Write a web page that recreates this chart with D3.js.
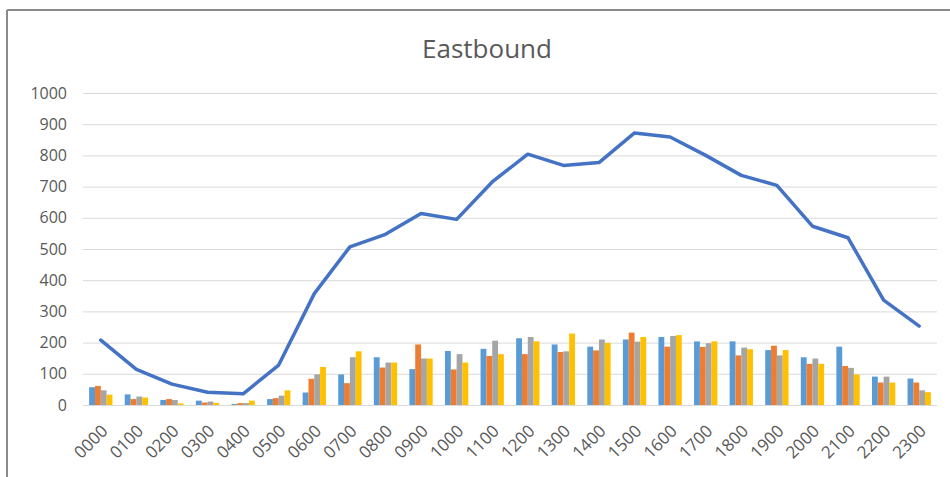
<!DOCTYPE html>
<html>
<head>
<meta charset="utf-8">
<script src="https://cdn.jsdelivr.net/npm/d3@7"></script>
<style>
  html, body { margin: 0; padding: 0; background: #fff; }
  svg { display: block; }
</style>
</head>
<body>
<script>
// Hourly eastbound counts: four bar series per hour plus the hourly total line
const hours = ["0000","0100","0200","0300","0400","0500","0600","0700","0800","0900","1000","1100",
               "1200","1300","1400","1500","1600","1700","1800","1900","2000","2100","2200","2300"];
const series1 = [57, 34, 16, 14, 3, 19, 40, 98, 153, 115, 173, 180, 214, 194, 187, 210, 218, 204, 204, 176, 153, 187, 91, 85];
const series2 = [61, 19, 19, 8, 6, 22, 84, 70, 120, 194, 114, 157, 163, 170, 175, 232, 187, 186, 159, 190, 132, 125, 72, 72];
const series3 = [47, 27, 16, 11, 6, 30, 98, 153, 136, 149, 163, 206, 218, 172, 210, 203, 221, 198, 184, 159, 149, 119, 91, 47];
const series4 = [33, 24, 5, 7, 14, 47, 122, 172, 136, 149, 136, 163, 204, 229, 199, 218, 224, 204, 179, 176, 132, 98, 72, 41];
const totals  = [208, 114, 67, 41, 36, 128, 357, 507, 547, 614, 595, 715, 804, 768, 777, 872, 859, 800, 736, 704, 573, 536, 336, 253];
const yTicks  = [0, 100, 200, 300, 400, 500, 600, 700, 800, 900, 1000];
const title = "Eastbound";

const barSeries = [series1, series2, series3, series4];
const barColors = ["#5B9BD5", "#ED7D31", "#A5A5A5", "#FFC000"];

const W = 950, H = 477;
const plot = { left: 83, right: 937, top: 93, bottom: 405 };
const FONT = "'Open Sans', 'Liberation Sans', sans-serif";

const svg = d3.select("body").append("svg").attr("width", W).attr("height", H);

// chart frame
svg.append("line").attr("x1", 7).attr("x2", W).attr("y1", 10).attr("y2", 10)
  .attr("stroke", "#8a8a8a").attr("stroke-width", 2);
svg.append("line").attr("x1", 7).attr("x2", 7).attr("y1", 10).attr("y2", H)
  .attr("stroke", "#8a8a8a").attr("stroke-width", 2);

const x = d3.scaleBand().domain(hours).range([plot.left, plot.right]).padding(0);
const y = d3.scaleLinear().domain([0, 1000]).range([plot.bottom, plot.top]);

const bw = x.bandwidth();
const groupFrac = 0.655;
const xs = d3.scaleBand().domain(d3.range(barSeries.length))
  .range([bw * (1 - groupFrac) / 2, bw * (1 + groupFrac) / 2]).padding(0);

// title
svg.append("text").attr("x", 487).attr("y", 58).attr("text-anchor", "middle")
  .attr("font-family", FONT).attr("font-size", 26).attr("fill", "#595959")
  .text(title);

// horizontal gridlines and y labels
const yAxis = d3.axisLeft(y).tickValues(yTicks).tickSize(-(plot.right - plot.left)).tickPadding(16)
  .tickFormat(d3.format("d"));
const gy = svg.append("g").attr("transform", `translate(${plot.left},0)`).call(yAxis);
gy.select(".domain").remove();
gy.selectAll(".tick line").attr("stroke", "#d9d9d9").attr("stroke-width", 1);
gy.selectAll(".tick text").attr("font-family", FONT).attr("font-size", 16).attr("fill", "#595959");

// bars
const groups = svg.append("g").selectAll("g").data(hours).join("g")
  .attr("transform", d => `translate(${x(d)},0)`);
groups.selectAll("rect")
  .data((h, i) => barSeries.map((s, k) => ({ k, v: s[i] })))
  .join("rect")
  .attr("x", d => xs(d.k))
  .attr("width", xs.bandwidth())
  .attr("y", d => y(d.v))
  .attr("height", d => y(0) - y(d.v))
  .attr("fill", d => barColors[d.k]);

// x axis labels
const xAxis = d3.axisBottom(x).tickSize(0).tickPadding(0);
const gx = svg.append("g").attr("transform", `translate(0,${plot.bottom})`).call(xAxis);
gx.select(".domain").remove();
gx.selectAll(".tick text")
  .attr("font-family", FONT).attr("font-size", 17).attr("fill", "#595959")
  .attr("text-anchor", "end")
  .attr("dy", null)
  .attr("transform", "translate(8,27) rotate(-45)");

// total line
const line = d3.line().x((d, i) => x(hours[i]) + bw / 2).y(d => y(d));
svg.append("path").datum(totals).attr("d", line)
  .attr("fill", "none").attr("stroke", "#4472C4").attr("stroke-width", 3.5)
  .attr("stroke-linejoin", "round").attr("stroke-linecap", "round");
</script>
</body>
</html>
